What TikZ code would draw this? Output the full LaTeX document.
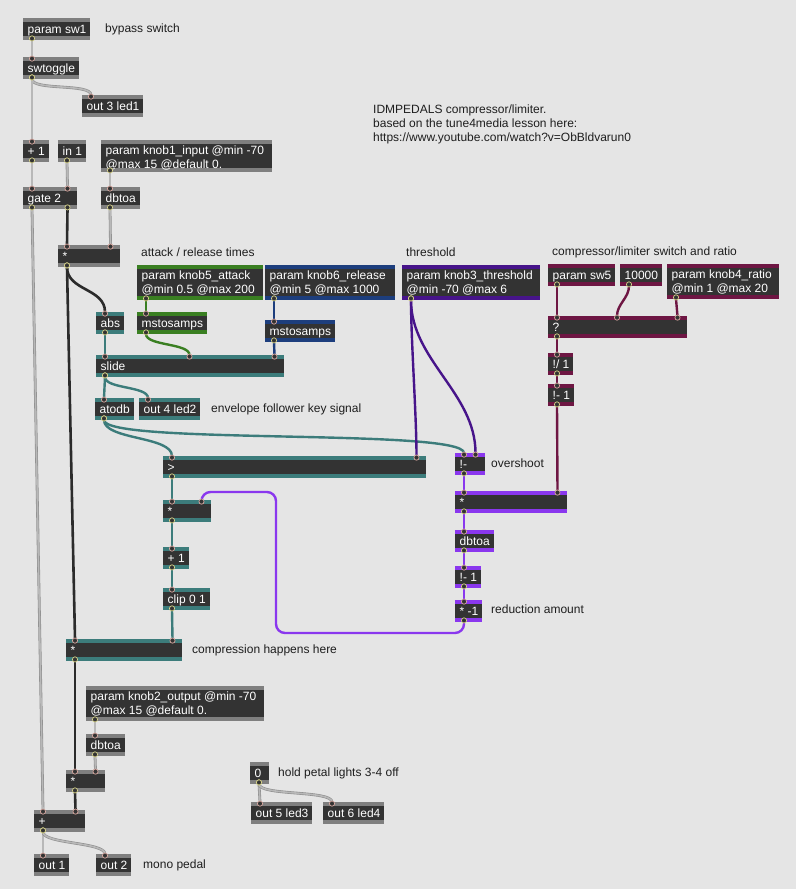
\documentclass[tikz,border=0pt]{standalone}
\usepackage{fontspec}
\newfontfamily\arialish{Liberation Sans}
\pgfdeclarelayer{background}
\pgfsetlayers{background,main}
\definecolor{bgc}{HTML}{E5E5E5}
\definecolor{boxc}{HTML}{333333}
\definecolor{bandgray}{HTML}{7F7F7F}
\definecolor{tealc}{HTML}{3C7C7B}
\definecolor{greenc}{HTML}{3A7F22}
\definecolor{bluec}{HTML}{1D3E7D}
\definecolor{dpurple}{HTML}{47148A}
\definecolor{maroonc}{HTML}{6E1643}
\definecolor{bpurple}{HTML}{8A37EE}
\definecolor{cordgray}{HTML}{B8B8B8}
\definecolor{cordedge}{HTML}{8E8E8E}
\definecolor{cordblack}{HTML}{2B2B2B}
\definecolor{inring}{HTML}{D9A8A0}
\definecolor{outring}{HTML}{D8D48A}
\definecolor{cmtc}{HTML}{1E1E1E}
\tikzset{
  boxnode/.style={draw=none, fill=boxc, inner sep=0, rectangle},
  boxtxt/.style={text=white, font=\arialish\fontsize{12}{13.5}\selectfont, inner sep=0, anchor=base west},
  cmt/.style={text=cmtc, font=\arialish\fontsize{12}{13.8}\selectfont, inner sep=0, anchor=base west},
  gcord/.style={draw=cordedge, double=cordgray, double distance=1.6pt, line width=0.6pt},
  kcord/.style={draw=cordblack, line width=2.6pt},
  tcord/.style={draw=tealc, line width=2.4pt},
  grcord/.style={draw=greenc, line width=2.4pt},
  blcord/.style={draw=bluec, line width=2.4pt},
  dpcord/.style={draw=dpurple, line width=2.4pt},
  mcord/.style={draw=maroonc, line width=2.4pt},
  bpcord/.style={draw=bpurple, line width=2.4pt},
  inport/.style={fill=boxc, draw=inring, line width=0.7pt},
  outport/.style={fill=boxc, draw=outring, line width=0.7pt},
}
% box frame: name x1 y1 x2 y2 colour
\newcommand\mxframe[6]{%
  \node[boxnode, minimum width={#4-#2}, minimum height={#5-#3}] (#1) at ({(#2+#4)/2},{(#3+#5)/2}) {};
  \fill[#6] (#2,#3) rectangle (#4,#3+4);
  \fill[#6] (#2,#5-4) rectangle (#4,#5);
  \coordinate (#1-i1) at (#2+9,#3);
  \coordinate (#1-iR) at (#4-9.5,#3);
  \coordinate (#1-o1) at (#2+9,#5);
  \coordinate (#1-oR) at (#4-9.5,#5);
}
\newcommand\mx[7]{%
  \mxframe{#1}{#2}{#3}{#4}{#5}{#6}
  \node[boxtxt] (#1-t) at (#2+4.5,#3+15.5) {#7};
}
\newcommand\mxb[8]{%
  \mxframe{#1}{#2}{#3}{#4}{#5}{#6}
  \node[boxtxt] (#1-t) at (#2+4.5,#3+14.5) {#7};
  \node[boxtxt] (#1-u) at (#2+4.5,#3+28) {#8};
}
\newcommand\inp[1]{\filldraw[inport] ([yshift=-1.6pt]#1) circle (2.6pt);}
\newcommand\outp[1]{\filldraw[outport] ([yshift=1.6pt]#1) circle (2.6pt);}
\newcommand\wire[3]{%
  \begin{pgfonlayer}{background}\draw[#1] (#2) -- (#3);\end{pgfonlayer}\outp{#2}\inp{#3}}
\newcommand\wirec[4]{%
  \begin{pgfonlayer}{background}\draw[#1] (#2) .. controls +(0,#4) and +(0,-#4) .. (#3);\end{pgfonlayer}\outp{#2}\inp{#3}}
\begin{document}
\begin{tikzpicture}[x=1pt,y=-1pt]
\begin{pgfonlayer}{background}
\fill[bgc] (0,0) rectangle (796,889);
\end{pgfonlayer}
\useasboundingbox (0,0) rectangle (796,889);

% ---- boxes ----
\mx{psw1}{23}{18}{90}{40}{bandgray}{param sw1}
\mx{swt}{23}{57}{79}{79}{bandgray}{swtoggle}
\mx{out3}{82}{95}{143}{117}{bandgray}{out 3 led1}
\mx{plus1}{23}{140}{49}{162}{bandgray}{+ 1}
\mx{in1}{58}{140}{86}{162}{bandgray}{in 1}
\mxb{knob1}{101}{140}{272}{172}{bandgray}{param knob1\_input @min -70}{@max 15 @default 0.}
\mx{gate}{23}{187}{77}{209}{bandgray}{gate 2}
\mx{dbtoaA}{101}{187}{140}{209}{bandgray}{dbtoa}
\mx{mulA}{58}{245}{120}{267}{bandgray}{*}
\mxb{knob5}{137}{265}{263}{300}{greenc}{param knob5\_attack}{@min 0.5 @max 200}
\mxb{knob6}{265}{265}{395}{300}{bluec}{param knob6\_release}{@min 5 @max 1000}
\mx{abs}{96}{312}{124}{334}{tealc}{abs}
\mx{msA}{137}{312}{207}{334}{greenc}{mstosamps}
\mx{msB}{265}{320}{335}{342}{bluec}{mstosamps}
\mx{slide}{96}{355}{284}{377}{tealc}{slide}
\coordinate (slide-iM) at (189.5,355);
\mx{atodb}{95}{398}{134}{420}{tealc}{atodb}
\mx{out4}{139}{398}{200}{420}{tealc}{out 4 led2}
\mxb{knob3}{402}{265}{540}{300}{dpurple}{param knob3\_threshold}{@min -70 @max 6}
\mx{psw5}{548}{264}{615}{286}{maroonc}{param sw5}
\mx{tenk}{620}{264}{662}{286}{maroonc}{10000}
\mxb{knob4}{667}{264}{779}{299}{maroonc}{param knob4\_ratio}{@min 1 @max 20}
\mx{sel}{548}{316}{687}{338}{maroonc}{?}
\coordinate (sel-iM) at (617,316);
\mx{rdiv}{548}{353}{573}{375}{maroonc}{!/ 1}
\mx{rsubA}{548}{384}{574}{406}{maroonc}{!- 1}
\mx{gt}{163}{456}{426}{478}{tealc}{>}
\mx{over}{455}{453}{485}{475}{bpurple}{!-}
\mx{mulP}{455}{491}{567}{513}{bpurple}{*}
\mx{dbtoaB}{455}{530}{494}{552}{bpurple}{dbtoa}
\mx{rsubB}{455}{566}{481}{588}{bpurple}{!- 1}
\mx{neg}{455}{600}{482}{622}{bpurple}{* -1}
\mx{mulB}{163}{500}{211}{522}{tealc}{*}
\mx{plus2}{163}{547}{189}{569}{tealc}{+ 1}
\mx{clip}{163}{588}{210}{610}{tealc}{clip 0 1}
\mx{comp}{66}{639}{182}{661}{tealc}{*}
\mxb{knob2}{86}{686}{264}{721}{bandgray}{param knob2\_output @min -70}{@max 15 @default 0.}
\mx{dbtoaC}{86}{734}{125}{756}{bandgray}{dbtoa}
\mx{mulC}{66}{770}{105}{792}{bandgray}{*}
\mx{sum}{34}{810}{85}{832}{bandgray}{+}
\mx{out1}{34}{854}{69}{876}{bandgray}{out 1}
\mx{out2}{96}{854}{131}{876}{bandgray}{out 2}
\mx{zero}{250}{762}{269}{784}{bandgray}{0}
\mx{out5}{251}{802}{312}{824}{bandgray}{out 5 led3}
\mx{out6}{323}{802}{384}{824}{bandgray}{out 6 led4}

% ---- comments ----
\node[cmt] (c1) at (105,32) {bypass switch};
\node[cmt] (c2) at (373,113.5) {IDMPEDALS compressor/limiter.};
\node[cmt] (c3) at (373,127.3) {based on the tune4media lesson here:};
\node[cmt] (c4) at (373,141) {https://www.youtube.com/watch?v=ObBldvarun0};
\node[cmt] (c5) at (141,256) {attack / release times};
\node[cmt] (c6) at (406,256) {threshold};
\node[cmt] (c7) at (552,255) {compressor/limiter switch and ratio};
\node[cmt] (c8) at (211,412) {envelope follower key signal};
\node[cmt] (c9) at (491,467.5) {overshoot};
\node[cmt] (c10) at (491,613.5) {reduction amount};
\node[cmt] (c11) at (192,653.5) {compression happens here};
\node[cmt] (c12) at (278,776) {hold petal lights 3-4 off};
\node[cmt] (c13) at (143,868) {mono pedal};

% ---- cords ----
\wire{gcord}{psw1-o1}{swt-i1}
\wirec{gcord}{swt-o1}{out3-i1}{12}
\wire{gcord}{swt-o1}{plus1-i1}
\wire{gcord}{plus1-o1}{gate-i1}
\wire{gcord}{in1-o1}{gate-iR}
\wire{gcord}{knob1-o1}{dbtoaA-i1}
\wire{gcord}{gate-o1}{sum-i1}
\wire{gcord}{dbtoaA-o1}{mulA-iR}
\wire{gcord}{knob2-o1}{dbtoaC-i1}
\wire{gcord}{dbtoaC-o1}{mulC-iR}
\wire{gcord}{sum-o1}{out1-i1}
\wirec{gcord}{sum-o1}{out2-i1}{12}
\wire{gcord}{zero-o1}{out5-i1}
\wirec{gcord}{zero-o1}{out6-i1}{12}

\wire{kcord}{gate-oR}{mulA-i1}
\wirec{kcord}{mulA-o1}{abs-i1}{24}
\wire{kcord}{mulA-o1}{comp-i1}
\wire{kcord}{comp-o1}{mulC-i1}
\wire{kcord}{mulC-o1}{sum-iR}

\wire{tcord}{abs-o1}{slide-i1}
\wire{tcord}{slide-o1}{atodb-i1}
\wirec{tcord}{slide-o1}{out4-i1}{12}
\wirec{tcord}{atodb-o1}{gt-i1}{20}
\wirec{tcord}{atodb-o1}{over-i1}{25}
\wire{tcord}{gt-o1}{mulB-i1}
\wire{tcord}{mulB-o1}{plus2-i1}
\wire{tcord}{plus2-o1}{clip-i1}
\wire{tcord}{clip-o1}{comp-iR}

\wire{grcord}{knob5-o1}{msA-i1}
\wirec{grcord}{msA-o1}{slide-iM}{12}
\wire{blcord}{knob6-o1}{msB-i1}
\wire{blcord}{msB-o1}{slide-iR}

\wirec{dpcord}{knob3-o1}{gt-iR}{40}
\wirec{dpcord}{knob3-o1}{over-iR}{60}

\wire{mcord}{psw5-o1}{sel-i1}
\wirec{mcord}{tenk-o1}{sel-iM}{12}
\wire{mcord}{knob4-o1}{sel-iR}
\wire{mcord}{sel-o1}{rdiv-i1}
\wire{mcord}{rdiv-o1}{rsubA-i1}
\wire{mcord}{rsubA-o1}{mulP-iR}

\wire{bpcord}{over-o1}{mulP-i1}
\wire{bpcord}{mulP-o1}{dbtoaB-i1}
\wire{bpcord}{dbtoaB-o1}{rsubB-i1}
\wire{bpcord}{rsubB-o1}{neg-i1}
\coordinate (rtA) at (276,633);
\coordinate (rtB) at (276,492);
\begin{pgfonlayer}{background}
\draw[bpcord, rounded corners=9pt] (neg-o1) |- (rtA) -- (rtB) -| (mulB-iR);
\end{pgfonlayer}
\outp{neg-o1}\inp{mulB-iR}
\end{tikzpicture}
\end{document}
